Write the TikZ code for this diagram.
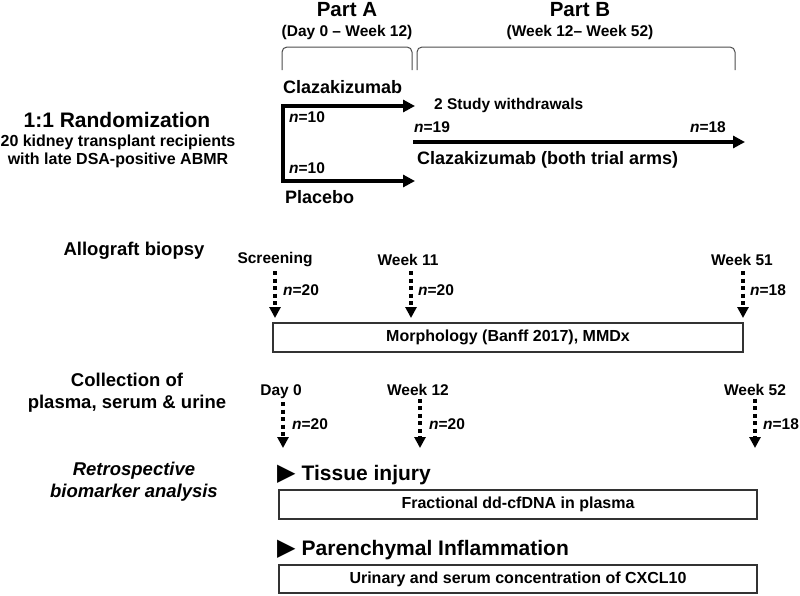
\documentclass[tikz,border=0pt]{standalone}
\usepackage{fontspec}
\setmainfont{Liberation Sans}
\newfontfamily\symfont{DejaVu Sans}
\usetikzlibrary{arrows.meta, positioning}

\newcommand{\ncount}[1]{\textit{n}=#1}

\begin{document}
\begin{tikzpicture}[
  x=1pt, y=-1pt,
  every node/.style={inner sep=0pt, font=\bfseries},
  partlbl/.style={font=\bfseries\fontsize{20.5}{24}\selectfont},
  rangelbl/.style={font=\bfseries\fontsize{15.5}{18}\selectfont},
  armlbl/.style={font=\bfseries\fontsize{18}{21}\selectfont},
  nlbl/.style={font=\bfseries\fontsize{15.5}{18}\selectfont, anchor=west},
  rowlbl/.style={font=\bfseries\fontsize{18.5}{22}\selectfont, align=center},
  timelbl/.style={font=\bfseries\fontsize{15.5}{18}\selectfont},
  headlbl/.style={font=\bfseries\fontsize{21}{24}\selectfont, anchor=west},
  outbox/.style={draw=black!80, line width=1.5pt, fill=white, minimum height=29pt,
    font=\bfseries\fontsize{16}{18}\selectfont},
  brace/.style={line width=1pt, black!70, rounded corners=5pt},
  armarrow/.style={line width=4pt, >={Triangle[length=12pt,width=12pt]}, ->},
  dotarrow/.style={line width=3.5pt, dash pattern=on 4pt off 3.5pt,
    -{Triangle[length=11pt,width=11pt]}, shorten <=3pt}]

  \useasboundingbox (0,0) rectangle (800,595);

  % study parts
  \node[partlbl] (partA) at (347,10) {Part A};
  \node[rangelbl] (rangeA) at (347,32) {(Day 0 – Week 12)};
  \node[partlbl] (partB) at (580,10) {Part B};
  \node[rangelbl] (rangeB) at (580,32) {(Week 12– Week 52)};
  \draw[brace] (282,70) -- (282,47) -- (412,47) -- (412,70);
  \draw[brace] (417,70) -- (417,47) -- (735,47) -- (735,70);

  % randomization
  \node[font=\bfseries\fontsize{21}{24}\selectfont] (rand) at (117,120) {1:1 Randomization};
  \node[font=\bfseries\fontsize{16}{18}\selectfont, align=center] (cohort) at (118,151)
    {20 kidney transplant recipients\\with late DSA-positive ABMR};

  % part A arms
  \coordinate (clazA) at (415,106);
  \coordinate (placA) at (415,181);
  \draw[armarrow, <->] (clazA) -- (283,106) -- (283,181) -- (placA);
  \node[armlbl, anchor=west] (claz) at (283,87) {Clazakizumab};
  \node[armlbl, anchor=west] (plac) at (285,197) {Placebo};
  \node[nlbl] (nclaz) at (289,117) {\ncount{10}};
  \node[nlbl] (nplac) at (289,168) {\ncount{10}};

  % part B
  \node[rangelbl, anchor=west] (withdr) at (434,105) {2 Study withdrawals};
  \node[nlbl] (n19) at (414,127) {\ncount{19}};
  \node[nlbl, anchor=east] (n18) at (726,127) {\ncount{18}};
  \coordinate (bstart) at (413,142);
  \coordinate (bend) at (745,142);
  \draw[armarrow] (bstart) -- (bend);
  \node[armlbl, anchor=west] (clazB) at (417,160) {Clazakizumab (both trial arms)};

  % allograft biopsy
  \node[rowlbl] (biopsy) at (134,251) {Allograft biopsy};
  \node[timelbl] (scr) at (275,260) {Screening};
  \node[timelbl] (wk11) at (408,260) {Week 11};
  \node[timelbl] (wk51) at (742,260) {Week 51};
  \node[outbox, minimum width=470pt] (morph) at (508,337.5) {Morphology (Banff 2017), MMDx};
  \draw[dotarrow] (275,268) -- (275,318);
  \draw[dotarrow] (411,268) -- (411,318);
  \draw[dotarrow] (743,268) -- (743,318);
  \node[nlbl] (nscr) at (283,290) {\ncount{20}};
  \node[nlbl] (nwk11) at (418,290) {\ncount{20}};
  \node[nlbl] (nwk51) at (750,290) {\ncount{18}};

  % sample collection
  \node[rowlbl] (collect) at (127,393) {Collection of\\plasma, serum \& urine};
  \node[timelbl] (day0) at (281,392) {Day 0};
  \node[timelbl] (wk12) at (418,390) {Week 12};
  \node[timelbl] (wk52) at (755,390) {Week 52};
  \coordinate (t0) at (283,448);
  \coordinate (t12) at (420,448);
  \coordinate (t52) at (755,448);
  \draw[dotarrow] (day0.south -| t0) -- (t0);
  \draw[dotarrow] (wk12.south -| t12) -- (t12);
  \draw[dotarrow] (wk52.south -| t52) -- (t52);
  \node[nlbl] (nday0) at (292,424) {\ncount{20}};
  \node[nlbl] (nwk12) at (429,424) {\ncount{20}};
  \node[nlbl] (nwk52) at (763,424) {\ncount{18}};

  % biomarker analysis
  \node[rowlbl, font=\bfseries\itshape\fontsize{18.5}{22}\selectfont] (retro) at (134,482)
    {Retrospective\\biomarker analysis};
  \node[headlbl] (tissue) at (277,475) {{\symfont\fontsize{24}{24}\selectfont ▶}\hspace{6pt}Tissue injury};
  \node[outbox, minimum width=478pt] (dna) at (518,504.5) {Fractional dd-cfDNA in plasma};
  \node[headlbl] (infl) at (277,550) {{\symfont\fontsize{24}{24}\selectfont ▶}\hspace{6pt}Parenchymal Inflammation};
  \node[outbox, minimum width=478pt, minimum height=28pt] (cxcl) at (518,579)
    {Urinary and serum concentration of CXCL10};
\end{tikzpicture}
\end{document}
